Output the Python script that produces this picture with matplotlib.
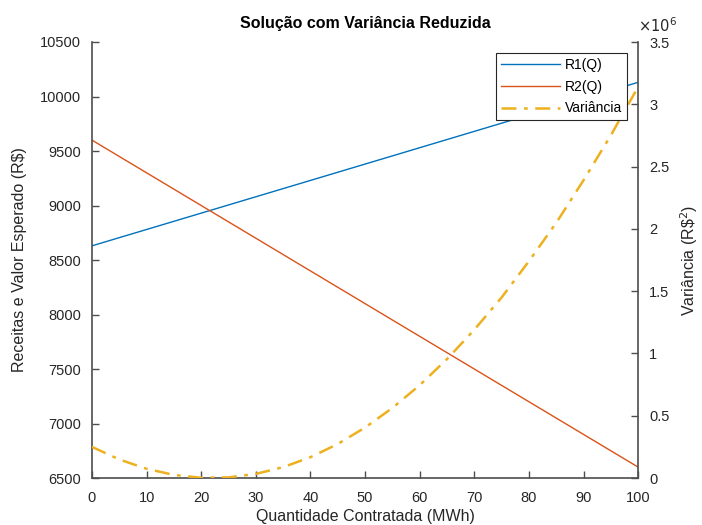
import numpy as np
import matplotlib.pyplot as plt
from matplotlib.ticker import FuncFormatter

plt.rcParams['font.family'] = ['Liberation Sans', 'DejaVu Sans']

# quantidade contratada (MWh)
Q = [0, 5, 10, 15, 20, 25, 30, 35, 40, 45, 50, 55, 60, 65, 70, 75, 80, 85, 90, 95, 100]
# receitas (R$)
R1 = [8630, 8705, 8780, 8855, 8930, 9005, 9080, 9155, 9230, 9305, 9380,
      9455, 9530, 9605, 9680, 9755, 9830, 9905, 9980, 10055, 10130]
R2 = [9600, 9450, 9300, 9150, 9000, 8850, 8700, 8550, 8400, 8250, 8100,
      7950, 7800, 7650, 7500, 7350, 7200, 7050, 6900, 6750, 6600]
# variancia (R$^2)
Var = [250000, 149000, 74000, 25000, 2000, 5000, 33000, 87000, 167000, 273000, 405000,
       562000, 745000, 954000, 1190000, 1449000, 1740000, 2048000, 2390000, 2750000, 3140000]

cinza = '#262626'
fig = plt.figure(figsize=(7.02, 5.25), dpi=100)
ax = fig.add_axes([0.131, 0.0895, 0.778, 0.8305])
ax2 = ax.twinx()

l1, = ax.plot(Q, R1, color='#0072BD', lw=1.0, label='R1(Q)')
l2, = ax.plot(Q, R2, color='#D95319', lw=1.0, label='R2(Q)')
l3, = ax2.plot(Q, Var, color='#EDB120', lw=1.8, ls=(0, (6, 3, 1.5, 3)), label='Variância')

ax.set_xlim(0, 100)
ax.set_ylim(6500, 10500)
ax.set_xticks(np.arange(0, 101, 10))
ax.set_yticks(np.arange(6500, 10501, 500))
ax2.set_ylim(0, 3.5e6)
ax2.set_yticks(np.arange(0, 3.51e6, 0.5e6))
ax2.yaxis.set_major_formatter(FuncFormatter(lambda v, p: ('%g' % (v / 1e6))))

for a in (ax, ax2):
    a.spines['top'].set_visible(False)
    for s in a.spines.values():
        s.set_color('#4d4d4d')
        s.set_linewidth(1.2)
    a.tick_params(direction='in', length=5, width=1, colors='#4d4d4d',
                  labelcolor=cinza, labelsize=10.5, pad=8)
ax.tick_params(axis='x', pad=9)
ax.spines['right'].set_visible(False)
ax2.spines['left'].set_visible(False)
ax2.spines['bottom'].set_visible(False)

ax.set_xlabel('Quantidade Contratada (MWh)', fontsize=11.5, color=cinza, labelpad=3)
ax.set_ylabel('Receitas e Valor Esperado (R$)', fontsize=11.5, color=cinza, labelpad=9)
ax2.set_ylabel(r'Variância (R\$$^2$)', fontsize=11.5, color=cinza, labelpad=6)
ax.set_title('Solução com Variância Reduzida', fontsize=11.5, fontweight='bold', pad=10)
ax2.text(1.0, 1.015, r'$\times10^{6}$', transform=ax2.transAxes, fontsize=10.5,
         color=cinza, ha='left', va='bottom')

leg = ax2.legend([l1, l2, l3], ['R1(Q)', 'R2(Q)', 'Variância'], loc='upper right',
                 bbox_to_anchor=(0.98, 0.974), fontsize=10, frameon=True, fancybox=False,
                 framealpha=1, borderpad=0.35, labelspacing=0.55, handlelength=4.3,
                 handletextpad=0.35, borderaxespad=0)
leg.get_frame().set_edgecolor('#262626')
leg.get_frame().set_linewidth(0.8)

fig.savefig('out.png', dpi=100)
